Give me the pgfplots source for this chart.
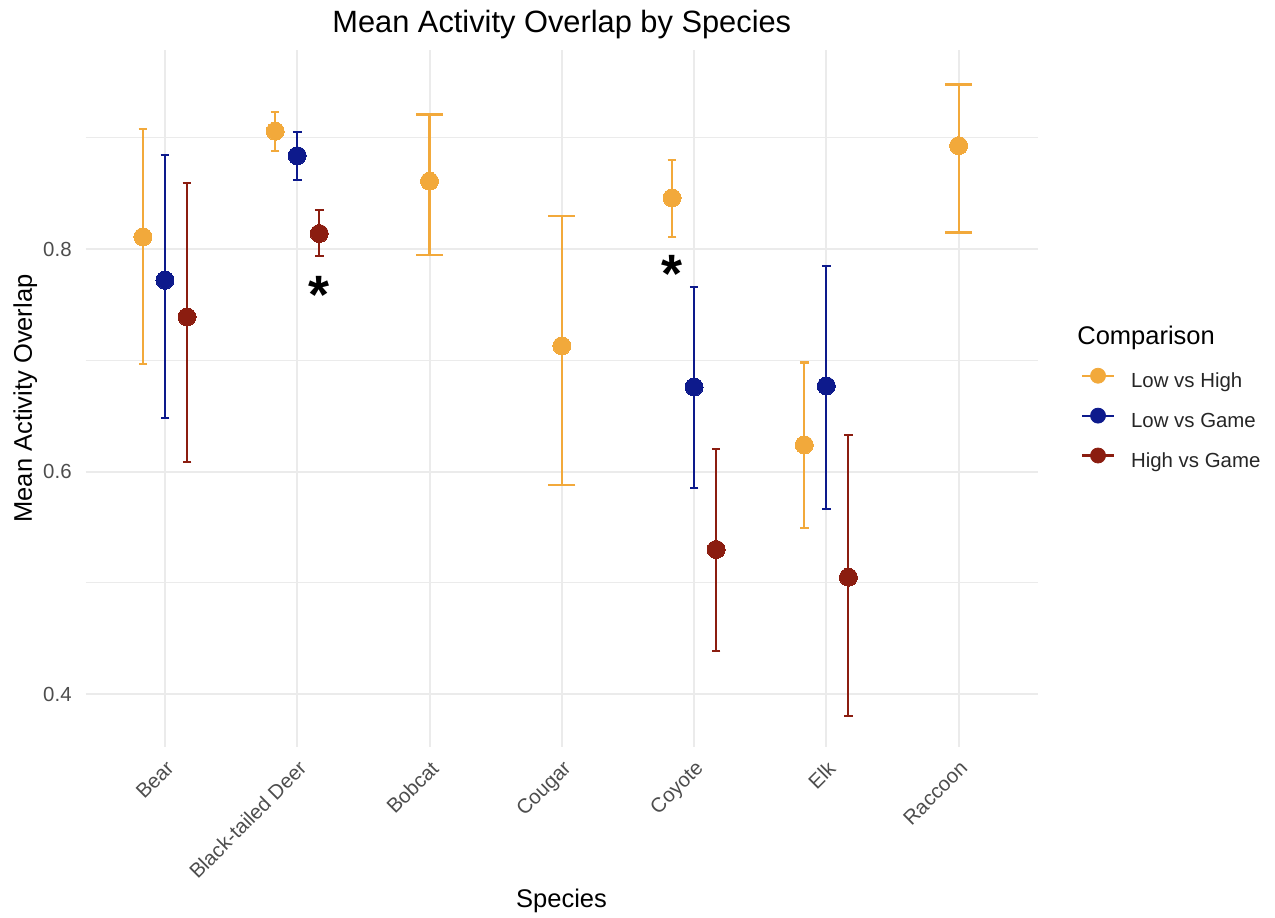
\documentclass[border=0pt]{standalone}
\usepackage{fontspec}
\setmainfont{Liberation Sans}
\usepackage{pgfplots}
\usepackage{pgfplotstable}
\pgfplotsset{compat=1.18}
\definecolor{cLH}{HTML}{F2A93B}
\definecolor{cLG}{HTML}{0D1A8C}
\definecolor{cHG}{HTML}{8B1D10}
\definecolor{gridc}{HTML}{EBEBEB}
\definecolor{tickc}{HTML}{4D4D4D}

% x = category index (0..6) with dodge offset; y = mean; lo/hi = error bar ends
\pgfplotstableread{
x y lo hi
-0.1667 0.811 0.697 0.908
0.8333 0.906 0.888 0.923
3.8333 0.846 0.811 0.880
4.8333 0.624 0.549 0.698
}\lowhighdodge
\pgfplotstableread{
x y lo hi
2 0.861 0.795 0.921
3 0.713 0.588 0.830
6 0.893 0.815 0.948
}\lowhighsingle
\pgfplotstableread{
x y lo hi
0 0.772 0.648 0.885
1 0.884 0.862 0.905
4 0.676 0.585 0.766
5 0.677 0.566 0.785
}\lowgame
\pgfplotstableread{
x y lo hi
0.1667 0.739 0.609 0.859
1.1667 0.814 0.794 0.835
4.1667 0.530 0.439 0.620
5.1667 0.505 0.380 0.633
}\highgame

\pgfplotsset{
  legglyph/.style={legend image code/.code={%
    \draw[line width=1.1pt, draw=#1] (0pt,3pt) -- (16pt,3pt);
    \fill[#1] (8pt,3pt) circle[radius=3.75pt];}},
}

\begin{document}
\begin{tikzpicture}
\begin{axis}[
  at={(0pt,0pt)}, anchor=south west,
  scale only axis, width=476.2pt, height=348.5pt,
  xmin=-0.6, xmax=6.6, ymin=0.3524, ymax=0.979,
  axis line style={draw=none},
  xtick={0,1,2,3,4,5,6},
  xticklabels={Bear,Black-tailed Deer,Bobcat,Cougar,Coyote,Elk,Raccoon},
  ytick={0.4,0.6,0.8}, minor ytick={0.5,0.7,0.9},
  yticklabels={0.4,0.6,0.8},
  /pgf/number format/assume math mode=true,
  major tick length=0pt, minor tick length=0pt,
  tick style={draw=none},
  xmajorgrids, ymajorgrids, yminorgrids,
  major grid style={draw=gridc, line width=1pt},
  minor grid style={draw=gridc, line width=0.6pt},
  xticklabel style={font=\fontsize{10.2pt}{12pt}\selectfont, text=tickc, yshift=-6pt, rotate=45, anchor=north east, inner sep=0pt},
  yticklabel style={font=\fontsize{10.2pt}{12pt}\selectfont, text=tickc, anchor=east, inner sep=0pt, xshift=-6.8pt},
  legend style={at={(axis description cs:1.0451,0.5440)}, anchor=north west,
    draw=none, fill=none, inner sep=0pt, outer sep=0pt, row sep=7.75pt,
    font=\fontsize{10.2pt}{12pt}\selectfont, text=black!85,
    nodes={inner sep=0pt, text height=8pt, text depth=2.5pt},
    /tikz/every odd column/.style={column sep=8pt}},
  legend cell align=left,
  clip=false,
]
\addplot[cLH, only marks, mark=*, mark size=4.5pt, mark options={draw=cLH, fill=cLH, line width=0pt},
  legglyph=cLH,
  error bars/.cd, y dir=both, y explicit,
  error bar style={line width=1.1pt, draw=cLH},
  error mark options={rotate=90, mark size=2.15pt, line width=1.1pt, draw=cLH}]
  table[x=x, y=y, y error plus expr=\thisrow{hi}-\thisrow{y}, y error minus expr=\thisrow{y}-\thisrow{lo}] {\lowhighdodge};
\addlegendentry{Low vs High}
\addplot[cLH, forget plot, only marks, mark=*, mark size=4.5pt, mark options={draw=cLH, fill=cLH, line width=0pt},
  error bars/.cd, y dir=both, y explicit,
  error bar style={line width=1.1pt, draw=cLH},
  error mark options={rotate=90, mark size=6.75pt, line width=1.1pt, draw=cLH}]
  table[x=x, y=y, y error plus expr=\thisrow{hi}-\thisrow{y}, y error minus expr=\thisrow{y}-\thisrow{lo}] {\lowhighsingle};
\addplot[cLG, only marks, mark=*, mark size=4.5pt, mark options={draw=cLG, fill=cLG, line width=0pt},
  legglyph=cLG,
  error bars/.cd, y dir=both, y explicit,
  error bar style={line width=1pt, draw=cLG},
  error mark options={rotate=90, mark size=2.15pt, line width=1pt, draw=cLG}]
  table[x=x, y=y, y error plus expr=\thisrow{hi}-\thisrow{y}, y error minus expr=\thisrow{y}-\thisrow{lo}] {\lowgame};
\addlegendentry{Low vs Game}
\addplot[cHG, only marks, mark=*, mark size=4.5pt, mark options={draw=cHG, fill=cHG, line width=0pt},
  legglyph=cHG,
  error bars/.cd, y dir=both, y explicit,
  error bar style={line width=1pt, draw=cHG},
  error mark options={rotate=90, mark size=2.15pt, line width=1pt, draw=cHG}]
  table[x=x, y=y, y error plus expr=\thisrow{hi}-\thisrow{y}, y error minus expr=\thisrow{y}-\thisrow{lo}] {\highgame};
\addlegendentry{High vs Game}
\node[anchor=north, inner sep=0pt, font=\fontsize{27pt}{30pt}\selectfont\bfseries] at (axis cs:1.1667,0.7756) {*};
\node[anchor=north, inner sep=0pt, font=\fontsize{27pt}{30pt}\selectfont\bfseries] at (axis cs:3.8333,0.7946) {*};
\end{axis}
% titles and labels (positions relative to panel's lower-left corner)
\node[anchor=base, inner sep=0pt, font=\fontsize{15.4pt}{18pt}\selectfont] at (238.1pt,357pt) {Mean Activity Overlap by Species};
\node[anchor=base, inner sep=0pt, font=\fontsize{12.75pt}{15pt}\selectfont] at (237.95pt,-80pt) {Species};
\node[anchor=base, rotate=90, inner sep=0pt, font=\fontsize{12.75pt}{15pt}\selectfont] at (-26.8pt,174.25pt) {Mean Activity Overlap};
\node[anchor=base west, inner sep=0pt, font=\fontsize{12.75pt}{15pt}\selectfont] at (495.7pt,201.5pt) {Comparison};
\path (-42.8pt,-85pt) rectangle (594.7pt,373.5pt);
\end{tikzpicture}
\end{document}
